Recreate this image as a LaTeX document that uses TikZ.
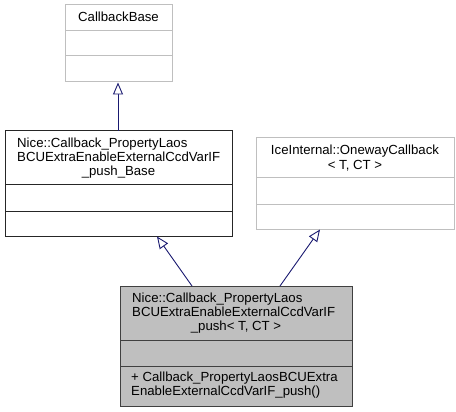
\documentclass[tikz,border=0pt]{standalone}
\usepackage{fontspec}
\setmainfont{Liberation Sans}
\usetikzlibrary{arrows.meta}
\definecolor{edgeblue}{HTML}{191970}
\definecolor{lightedge}{HTML}{BFBFBF}
\definecolor{boxfill}{HTML}{BFBFBF}
\begin{document}
\begin{tikzpicture}[x=1pt,y=-1pt,
  txt/.style={inner sep=0pt,font=\fontsize{13.2}{15}\selectfont},
  extbox/.style={draw=lightedge,line width=1pt,fill=white},
  mainbox/.style={draw=black!85,line width=1pt},
  focusbox/.style={draw=black!75,line width=1pt,fill=boxfill},
  inherit/.style={draw=edgeblue,line width=0.9pt,-{Triangle[open,length=12pt,width=10pt,fill=white]}}]
\useasboundingbox (0,0) rectangle (456,412);
% CallbackBase
\draw[extbox] (65,5) rectangle (172,82);
\draw[lightedge,line width=1pt] (65,31) -- (172,31) (65,56) -- (172,56);
\node[txt,anchor=base] (cb) at (118.5,22) {CallbackBase};
\coordinate (cbbot) at (118,82.5);
% Base
\draw[mainbox] (5,131) rectangle (232,236);
\draw[black!85,line width=1pt] (5,185) -- (232,185) (5,211) -- (232,211);
\node[txt,anchor=base west] (b1) at (17,147) {Nice::Callback\_PropertyLaos};
\node[txt,anchor=base west] (b2) at (17,161.3) {BCUExtraEnableExternalCcdVarIF};
\node[txt,anchor=base] (b3) at (118.5,175.6) {\_push\_Base};
\coordinate (btop) at (118,131);
\coordinate (bbot) at (157,236.5);
% Oneway
\draw[extbox] (256,138) rectangle (454,229);
\draw[lightedge,line width=1pt] (256,178) -- (454,178) (256,204) -- (454,204);
\node[txt,anchor=base] (o1) at (355,155) {IceInternal::OnewayCallback};
\node[txt,anchor=base] (o2) at (355,169) {< T, CT >};
\coordinate (obot) at (320,229.5);
% Focus class
\draw[focusbox] (120,286) rectangle (352,406);
\draw[black!75,line width=1pt] (120,340) -- (352,340) (120,366) -- (352,366);
\node[txt,anchor=base west] (f1) at (132,302) {Nice::Callback\_PropertyLaos};
\node[txt,anchor=base west] (f2) at (132,316.3) {BCUExtraEnableExternalCcdVarIF};
\node[txt,anchor=base] (f3) at (236,330.6) {\_push< T, CT >};
\node[txt,anchor=base west] (m1) at (131,381) {+ Callback\_PropertyLaosBCUExtra};
\node[txt,anchor=base west] (m2) at (131,395.3) {EnableExternalCcdVarIF\_push()};
\coordinate (ftopl) at (192,286);
\coordinate (ftopr) at (280,286);
% inheritance
\draw[inherit] (btop) -- (cbbot);
\draw[inherit] (ftopl) -- (bbot);
\draw[inherit] (ftopr) -- (obot);
\end{tikzpicture}
\end{document}
